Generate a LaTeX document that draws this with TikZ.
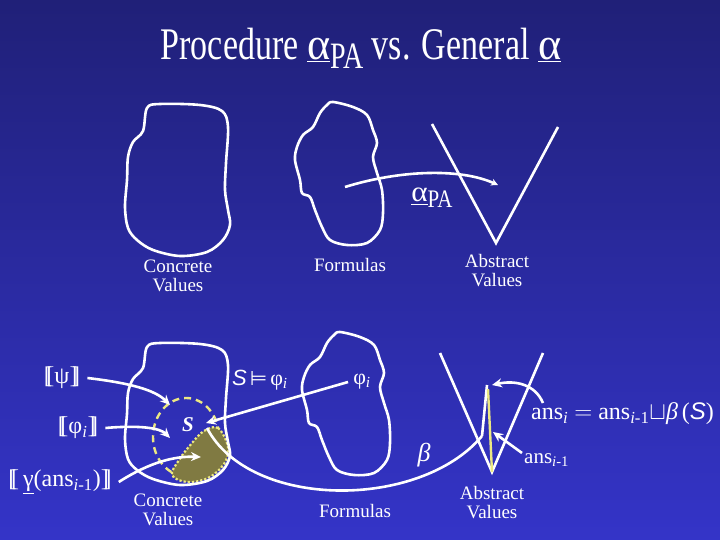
\documentclass[tikz,border=0pt]{standalone}
\usepackage{fontspec}
\setmainfont{Liberation Serif}
\setsansfont{Liberation Sans}
\newfontfamily\symfont{DejaVu Sans}
\usetikzlibrary{arrows.meta}
\definecolor{bgtop}{RGB}{32,32,120}
\definecolor{bgbot}{RGB}{52,52,200}
\definecolor{olivefill}{RGB}{128,122,66}
\definecolor{dashyel}{RGB}{236,232,130}
\newcommand\lsem{[\kern-0.22em[}
\newcommand\rsem{]\kern-0.22em]}
\begin{document}
\begin{tikzpicture}[x=1pt,y=-1pt,
  blob/.style={draw=white, line width=2.6pt},
  wline/.style={draw=white, line width=2.6pt},
  conn/.style={draw=white, line width=2.6pt, -{Stealth[length=10pt,width=9pt]}},
  lbl/.style={text=white, font=\fontsize{19}{19}\selectfont, align=center, inner sep=0pt},
  mlbl/.style={text=white, inner sep=0pt}]
\fill[top color=bgtop, bottom color=bgbot] (0,0) rectangle (720,540);
\useasboundingbox (0,0) rectangle (720,540);

% title
\node[text=white, font=\fontsize{34}{36}\selectfont, inner sep=0pt] (title) at (361,48)
  {\scalebox{1}[1.33]{Procedure \underline{\scalebox{1.3}[1]{α}}\raisebox{-0.45ex}{\fontsize{28}{28}\selectfont PA} vs. General \underline{\scalebox{1.3}[1]{α}}}};

% ---------- top row ----------
\draw[blob] plot[smooth cycle, tension=0.55] coordinates {(147,108) (160,104) (200,105) (222,111) (228,127) (226,163) (225,190) (228,210) (230,225) (223,240) (207,252) (180,256) (153,250) (137,240) (128,228) (125,207) (127,180) (128,157) (133,142) (143,131)};
\draw[blob] plot[smooth cycle, tension=0.55] coordinates {(333,102) (353,107) (367,115) (373,130) (377,143) (373,157) (377,173) (382,190) (383,213) (380,230) (367,243) (347,245) (330,240) (322,227) (315,210) (310,197) (302,193) (300,180) (295,160) (297,147) (303,135) (313,127) (320,113) (327,105)};
\coordinate (vL1) at (432,124);
\coordinate (vB1) at (496,243);
\coordinate (vR1) at (558,127);
\draw[wline, line join=miter] (vL1) -- (vB1) -- (vR1);

\node[lbl] (cv1) at (178,276) {Concrete\\Values};
\node[lbl] (fm1) at (350,265) {Formulas};
\node[lbl] (av1) at (497,271) {Abstract\\Values};

\coordinate (a1s) at (345,187);
\coordinate (a1e) at (498,185);
\draw[draw=white, line width=2.6pt, -{Stealth[length=7pt,width=7pt]}] (a1s) .. controls (400,170) and (460,168) .. (a1e);
\node[mlbl, font=\fontsize{24}{24}\selectfont] (apa) at (432,198)
  {\scalebox{1}[1.2]{\underline{\scalebox{1.3}[1]{α}}\raisebox{-0.45ex}{\fontsize{21}{21}\selectfont PA}}};

% ---------- bottom row ----------
\draw[dashyel, line width=2.4pt, dash pattern=on 7pt off 5pt] (186,437) ellipse [x radius=33, y radius=39];
\fill[olivefill] plot[smooth cycle, tension=0.6] coordinates {(204,431) (218,428) (228,447) (224,464) (208,478) (187,482) (172,475) (179,460) (192,443)};
\draw[dashyel, line width=2.2pt, dotted] plot[smooth cycle, tension=0.6] coordinates {(204,431) (218,428) (228,447) (224,464) (208,478) (187,482) (172,475) (179,460) (192,443)};

\draw[blob] plot[smooth cycle, tension=0.55] coordinates {(147,347) (160,343) (200,344) (222,350) (228,365) (226,398) (225,423) (228,442) (230,456) (223,470) (207,481) (180,485) (153,479) (137,470) (128,459) (125,439) (127,414) (128,393) (133,379) (143,368)};
\begin{scope}[shift={(7,230)}]
\draw[blob] plot[smooth cycle, tension=0.55] coordinates {(333,102) (353,107) (367,115) (373,130) (377,143) (373,157) (377,173) (382,190) (383,213) (380,230) (367,243) (347,245) (330,240) (322,227) (315,210) (310,197) (302,193) (300,180) (295,160) (297,147) (303,135) (313,127) (320,113) (327,105)};
\end{scope}

\coordinate (vL2) at (440,353);
\coordinate (vB2) at (492,472);
\coordinate (vR2) at (543,353);
\draw[wline, line join=miter] (vL2) -- (vB2) -- (vR2);

% labels
\node[mlbl, font=\fontsize{24}{24}\selectfont] (lpsi) at (62,378) {\lsem ψ\rsem};
\node[mlbl, font=\fontsize{24}{24}\selectfont] (lphi) at (78,428) {\lsem φ\textsubscript{\textit{i}}\rsem};
\node[mlbl, font=\fontsize{24}{24}\selectfont] (lgam) at (60,482) {\lsem\,\underline{γ}(ans\textsubscript{\textit{i}-1})\rsem};

\node[mlbl, font=\fontsize{21}{21}\selectfont\bfseries\itshape] (S) at (188,425) {S};
\node[mlbl, font=\fontsize{22}{22}\selectfont, anchor=west] (sat) at (232,380) {\textsf{\textit{S}}\hspace{3pt}{\symfont\fontsize{20}{20}\selectfont ⊨}\hspace{3pt}φ\textsubscript{\textit{i}}};
\node[mlbl, font=\fontsize{22}{22}\selectfont] (phii) at (362,382) {φ\textsubscript{\textit{i}}};
\node[mlbl, font=\fontsize{26}{26}\selectfont\itshape] (beta) at (424,455) {β};
\node[mlbl, font=\fontsize{24}{24}\selectfont, anchor=west] (ansi) at (531,414)
  {ans\textsubscript{\textit{i}} $=$ ans\textsubscript{\textit{i}-1}$\sqcup$\textit{β}\,(\textsf{\textit{S}})};
\node[mlbl, font=\fontsize{21}{21}\selectfont, anchor=west] (ansp) at (524,460) {ans\textsubscript{\textit{i}-1}};

\node[lbl] (cv2) at (168,510) {Concrete\\Values};
\node[lbl] (fm2) at (355,511) {Formulas};
\node[lbl] (av2) at (492,503) {Abstract\\Values};

% connectors
\coordinate (e1) at (170,405);
\coordinate (e2) at (170,438);
\coordinate (e3) at (201,457);
\draw[conn] ([xshift=7pt]lpsi.east) .. controls (130,383) and (155,390) .. (e1);
\draw[conn] ([xshift=7pt]lphi.east) .. controls (140,425) and (160,428) .. (e2);
\draw[conn] ([xshift=7pt]lgam.east) .. controls (150,462) and (175,456) .. (e3);

\coordinate (sS) at (206,423);
\coordinate (bs) at (207,428);
\draw[conn] ([xshift=-5pt]phii.west) -- (sS);
\coordinate (spb) at (482,436);
\coordinate (spt) at (487,385);
\draw[wline] (bs) .. controls (250,510) and (420,510) .. (spb);
\draw[wline] (spb) -- (spt);
\draw[dashyel, line width=2.4pt] (488,389) -- (vB2);

\coordinate (ai) at (543,403);
\coordinate (ait) at (492,385);
\draw[conn] (ai) .. controls (535,384) and (515,380) .. (ait);
\coordinate (ap) at (522,453);
\coordinate (apt) at (493,432);
\draw[conn] (ap) -- (apt);
\end{tikzpicture}
\end{document}
